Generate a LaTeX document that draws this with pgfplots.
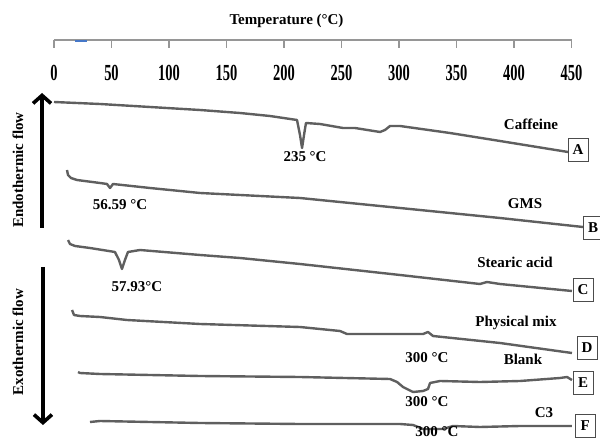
\documentclass[border=0pt]{standalone}
\usepackage{fontspec}
\setmainfont{Liberation Serif}
\usepackage{graphicx}
\usepackage{pgfplots}
\pgfplotsset{compat=1.18}
\usetikzlibrary{arrows.meta}
\definecolor{curve}{RGB}{95,95,95}
\definecolor{axgray}{RGB}{150,150,150}
\definecolor{blip}{RGB}{70,120,200}
\newcommand{\lbl}{\bfseries\fontsize{7.5}{8}\selectfont}
\begin{document}
\begin{tikzpicture}
\useasboundingbox (0,0) rectangle (300pt,219pt);
\clip (0,0) rectangle (300pt,219pt);
% temperature scale
\begin{axis}[at={(27pt,199pt)}, anchor=south west, scale only axis,
  width=258.75pt, height=5pt, xmin=0, xmax=450, ymin=0, ymax=1,
  axis x line=bottom, axis y line=none,
  x axis line style={-, draw=axgray, line width=0.6pt},
  xtick={0,50,...,450}, tick align=outside, major tick length=4pt,
  xtick style={draw=axgray, line width=0.6pt},
  xticklabel style={anchor=center, yshift=-12.5pt, font=\bfseries\fontsize{11.5}{11.5}\selectfont},
  xticklabel={\scalebox{0.63}[1]{\pgfmathprintnumber[assume math mode=true]{\tick}}},
  clip=false]
\end{axis}
% curves
\begin{axis}[at={(0,0)}, anchor=south west, scale only axis,
  width=300pt, height=219pt, xmin=-46.96, xmax=474.78, ymin=0, ymax=438,
  y dir=reverse, hide axis, clip=false]
\addplot[curve, line width=1.2pt, line join=round] coordinates {
(0,102)(40,104)(83.5,107)(127,110)(161.7,113)(187.8,116)(211.3,120)(213.9,135)(215.7,148)(217.4,135)(219.1,123)(231.3,124)(251.3,128)(261.7,128)(283.5,132)(287.8,130)(292.2,126)(300.9,126)(344.3,133)(387.8,141)(447,152)};
\addplot[curve, line width=1.2pt, line join=round] coordinates {
(11.3,170)(12.2,175)(14.8,178)(20,180)(40,183)(46.1,184)(48.7,188)(51.3,184)(83.5,188)(127,193)(213.9,198)(300.9,208)(387.8,218)(460,227)};
\addplot[curve, line width=1.2pt, line join=round] coordinates {
(12.2,240)(13.9,244)(18.3,246)(31.3,248)(53,252)(56.5,260)(59.1,269)(61.7,260)(64.3,252)(74.8,250)(127,255)(161.7,258)(213.9,264)(300.9,275)(370.4,284)(376.5,282)(387.8,284)(450.4,291)};
\addplot[curve, line width=1.2pt, line join=round] coordinates {
(15.7,310)(17.4,315)(22.6,316)(40,317)(63.5,320)(127,324)(213.9,327)(248.7,331)(254.8,334)(300.9,334)(320.9,334)(325.2,332)(329.6,336)(387.8,343)(450.4,353)};
\addplot[curve, line width=1.2pt, line join=round] coordinates {
(20.9,372)(22.6,373)(40,374)(127,376)(213.9,377)(292.2,379)(298.3,382)(303.5,387)(312.2,392)(320.9,391)(325.2,389)(327,383)(335.7,381)(370.4,382)(405.2,381)(440,378)(446.1,377)(450.4,380)};
\addplot[curve, line width=1.2pt, line join=round] coordinates {
(31.3,422)(40,421)(127,423)(213.9,424)(300.9,424)(312.2,425)(320.9,429)(338.3,429)(347,426)(370.4,427)(405.2,426)(450.4,426)};
% decorations
\draw[blip, line width=1.2pt] (18.3,41) -- (28.7,41);
\node[font=\bfseries\fontsize{7.5}{8}\selectfont] at (202.2,21) {Temperature (°C)};
\draw[black, line width=1.8pt, -{Straight Barb[length=4pt,width=9pt]}] (-10.4,228) -- (-10.4,93);
\draw[black, line width=1.8pt, -{Straight Barb[length=4pt,width=9pt]}] (-9.6,267) -- (-9.6,425);
\node[rotate=90, font=\lbl] at (-31.3,170) {Endothermic flow};
\node[rotate=90, font=\lbl] at (-31.3,342) {Exothermic flow};
% labels
\node[font=\lbl] at (414.8,124) {Caffeine};
\node[font=\lbl] at (218.3,157) {235 °C};
\node[font=\lbl] at (409.6,204) {GMS};
\node[font=\lbl] at (57.4,205) {56.59 °C};
\node[font=\lbl] at (400.9,262) {Stearic acid};
\node[font=\lbl] at (72.2,287) {57.93°C};
\node[font=\lbl] at (401.7,323) {Physical mix};
\node[font=\lbl] at (324.3,358) {300 °C};
\node[font=\lbl] at (407.8,359) {Blank};
\node[font=\lbl] at (324.3,402) {300 °C};
\node[font=\lbl] at (426.1,413) {C3};
\node[font=\lbl] at (333,432) {300 °C};
% boxes
\tikzset{bx/.style={draw=black!70, line width=0.5pt, fill=white, minimum width=10pt, minimum height=11.5pt, inner sep=0pt, font=\lbl}}
\node[bx] at (455.7,150) {A};
\node[bx] at (468.7,228) {B};
\node[bx] at (460,290) {C};
\node[bx] at (463.5,348) {D};
\node[bx] at (460,383) {E};
\node[bx] at (462,426) {F};
\end{axis}
\end{tikzpicture}
\end{document}
